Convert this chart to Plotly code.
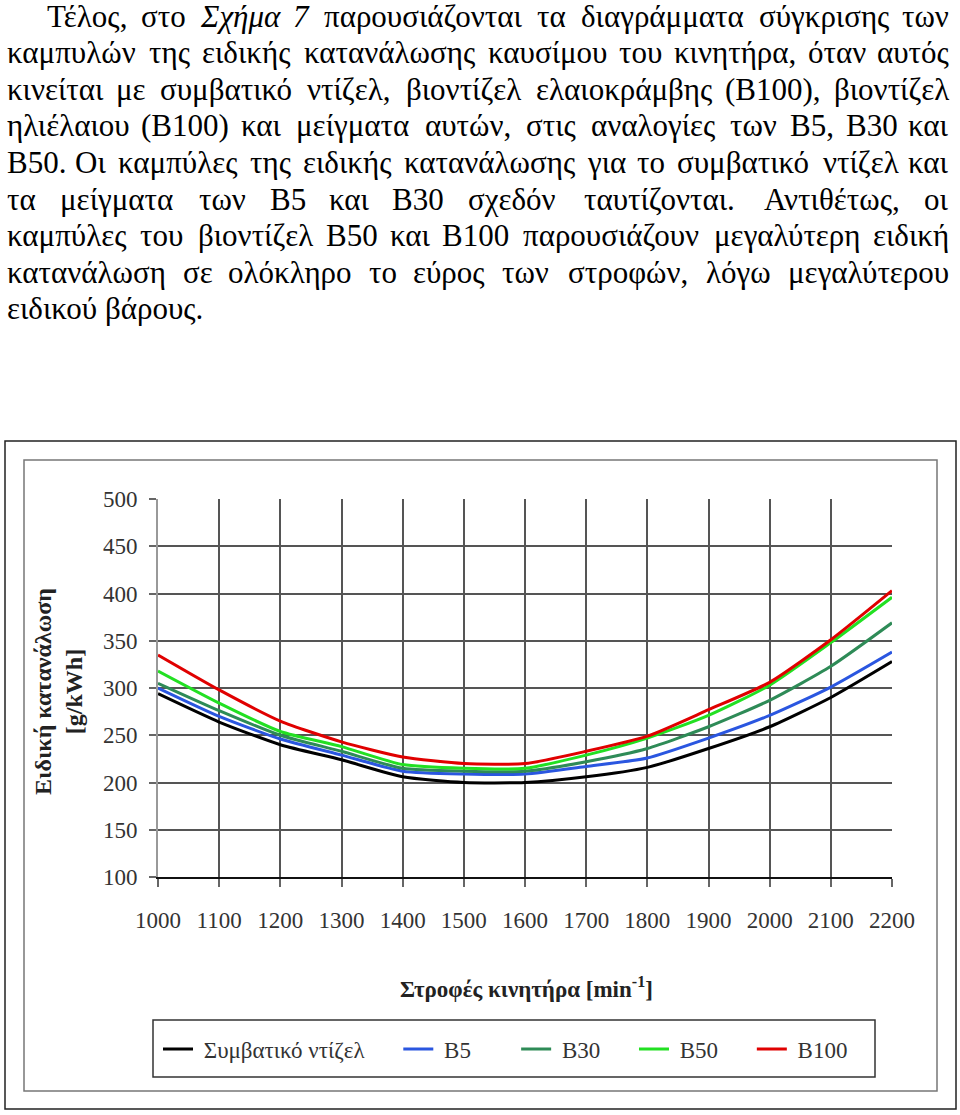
import re
import plotly.graph_objects as go

# --- data ---
rpm = [1000, 1100, 1200, 1300, 1400, 1500, 1600, 1700, 1800, 1900, 2000, 2100, 2200]
diesel = [294, 264, 240, 224, 206, 200, 200, 206, 216, 236, 259, 290, 328]
b5 = [300, 270, 246, 229, 212, 209, 209, 217, 226, 247, 271, 301, 338]
b30 = [305, 276, 250, 233, 215, 212, 212, 222, 236, 259, 287, 323, 369]
b50 = [318, 284, 254, 238, 219, 215, 215, 229, 247, 271, 303, 348, 396]
b100 = [335, 298, 265, 243, 227, 220, 220, 233, 249, 277, 306, 351, 403]

names = ["Συμβατικό ντίζελ", "B5", "B30", "B50", "B100"]
colors = ["#000000", "#2a56e0", "#2e8b57", "#22e022", "#e00000"]
# non-breaking spaces pad the legend entries to the spacing of the original
pads = [5, 7, 5, 5, 0]

paragraph = [
    "Τέλος, στο <i>Σχήμα</i> <i>7</i> παρουσιάζονται τα διαγράμματα σύγκρισης των",
    "καμπυλών της ειδικής κατανάλωσης καυσίμου του κινητήρα, όταν αυτός",
    "κινείται με συμβατικό ντίζελ, βιοντίζελ ελαιοκράμβης (Β100), βιοντίζελ",
    "ηλιέλαιου (Β100) και μείγματα αυτών, στις αναλογίες των Β5, Β30 και",
    "Β50. Οι καμπύλες της ειδικής κατανάλωσης για το συμβατικό ντίζελ και",
    "τα μείγματα των Β5 και Β30 σχεδόν ταυτίζονται. Αντιθέτως, οι",
    "καμπύλες του βιοντίζελ Β50 και Β100 παρουσιάζουν μεγαλύτερη ειδική",
    "κατανάλωση σε ολόκληρο το εύρος των στροφών, λόγω μεγαλύτερου",
    "ειδικού βάρους.",
]

# page geometry (body margin is removed in the page, see write_html below)
W, H = 960, 1115
L, R, T, B = 158, 892, 499, 877  # plot area in page pixels


def px(x):
    return (x - L) / (R - L)


def py(y):
    return (B - y) / (B - T)


SERIF = "Liberation Serif"
TEXT_SIZE = 31

# rough Times glyph widths (em) for justifying the paragraph
CW = {
    "ι": 0.28, "ί": 0.28, "ϊ": 0.28, "τ": 0.44, "ς": 0.42, "ε": 0.42, "έ": 0.42,
    "γ": 0.45, "ζ": 0.44, "ν": 0.47, "υ": 0.48, "ύ": 0.48, "μ": 0.57, "ω": 0.68,
    "ώ": 0.68, "π": 0.55, "σ": 0.55, "α": 0.53, "ά": 0.53, "φ": 0.62, "ή": 0.5,
    ",": 0.25, ".": 0.25, "(": 0.33, ")": 0.33, "Β": 0.67, "Ο": 0.72, "Α": 0.72,
    "Τ": 0.61, "Σ": 0.6,
}


def word_width(word):
    plain = re.sub(r"<[^>]+>", "", word)
    return sum(CW.get(ch, 0.5) for ch in plain) * TEXT_SIZE


fig = go.Figure()
for name, vals, color, pad in zip(names, [diesel, b5, b30, b50, b100], colors, pads):
    fig.add_trace(go.Scatter(
        x=rpm, y=vals, name="\u00a0" + name + "\u00a0" * pad, mode="lines",
        line=dict(color=color, width=3, shape="spline", smoothing=0.6),
    ))

annotations = []
for i, line in enumerate(paragraph):
    words = line.split(" ")
    left = 45 if i == 0 else 5
    right = 951
    widths = [word_width(w) for w in words]
    last = i == len(paragraph) - 1
    if last:
        gap = 0.25 * TEXT_SIZE
    else:
        gap = (right - left - sum(widths)) / (len(words) - 1)
    yc = 16 + 36.6 * i
    cursor = left
    for j, (w, wd) in enumerate(zip(words, widths)):
        if j == 0:
            x, anchor = left, "left"
        elif j == len(words) - 1 and not last:
            x, anchor = right, "right"
        else:
            x, anchor = cursor + wd / 2, "center"
        annotations.append(dict(
            x=px(x), y=py(yc), xref="paper", yref="paper", text=w,
            showarrow=False, xanchor=anchor, yanchor="middle",
            font=dict(family=SERIF, size=TEXT_SIZE, color="#000"),
        ))
        cursor += wd + gap

# axis titles
annotations.append(dict(
    x=px(58), y=py(691), xref="paper", yref="paper",
    text="<b>Ειδική κατανάλωση<br>[g/kWh]</b>", textangle=-90,
    xanchor="center", yanchor="middle", showarrow=False,
    font=dict(family=SERIF, size=24, color="#222"),
))
annotations.append(dict(
    x=px(526), y=py(987), xref="paper", yref="paper",
    text="<b>Στροφές κινητήρα [min<sup>-1</sup>]</b>",
    xanchor="center", yanchor="middle", showarrow=False,
    font=dict(family=SERIF, size=23, color="#222"),
))

shapes = [
    dict(type="rect", xref="paper", yref="paper", x0=px(5), x1=px(956), y0=py(441), y1=py(1109),
         line=dict(color="#222", width=1.5), layer="below"),
    dict(type="rect", xref="paper", yref="paper", x0=px(24), x1=px(937), y0=py(460), y1=py(1091),
         line=dict(color="#777", width=1.5), layer="below"),
    # legend frame
    dict(type="rect", xref="paper", yref="paper", x0=px(153), x1=px(875), y0=py(1020), y1=py(1077),
         line=dict(color="#333", width=1.5), layer="below"),
]

fig.update_layout(
    width=W, height=H,
    margin=dict(l=L, r=W - R, t=T, b=H - B, autoexpand=False),
    paper_bgcolor="white", plot_bgcolor="white",
    showlegend=True,
    legend=dict(
        orientation="h", x=px(158), y=py(1049), xref="paper", yref="paper",
        xanchor="left", yanchor="middle",
        borderwidth=0, bgcolor="rgba(0,0,0,0)",
        font=dict(family=SERIF, size=23, color="#333"),
        itemwidth=30,
    ),
    annotations=annotations,
    shapes=shapes,
)

fig.update_xaxes(
    range=[1000, 2200], dtick=100, tick0=1000,
    showgrid=True, gridcolor="#555", gridwidth=1.5,
    showline=True, linecolor="#111", linewidth=2,
    ticks="outside", ticklen=8, tickcolor="#666", tickwidth=1.5,
    ticklabelstandoff=13,
    tickfont=dict(family=SERIF, size=23, color="#333"),
    zeroline=False,
)
fig.update_yaxes(
    range=[100, 500], dtick=50, tick0=100,
    showgrid=True, gridcolor="#555", gridwidth=1.5,
    showline=True, linecolor="#999", linewidth=2,
    ticks="outside", ticklen=7, tickcolor="#666", tickwidth=1.5,
    ticklabelstandoff=7,
    tickfont=dict(family=SERIF, size=23, color="#333"),
    zeroline=False,
)

fig.write_html(
    "out.html",
    config={"displayModeBar": False},
    post_script="document.body.style.margin = '0';",
)
